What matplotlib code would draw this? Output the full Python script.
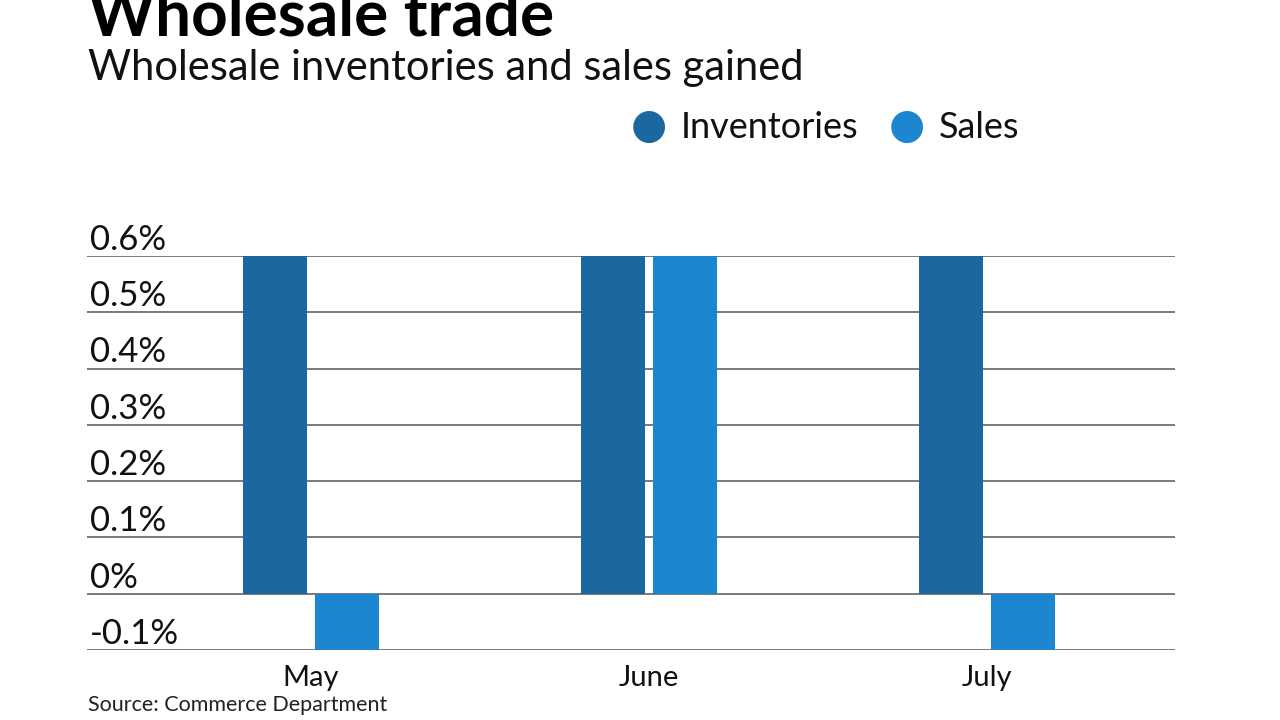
import matplotlib.pyplot as plt

# Chart data
months = ["May", "June", "July"]
inventories = [0.6, 0.6, 0.6]
sales = [-0.1, 0.6, -0.1]
tick_values = [-0.1, 0, 0.1, 0.2, 0.3, 0.4, 0.5, 0.6]
tick_labels = ["-0.1%", "0%", "0.1%", "0.2%", "0.3%", "0.4%", "0.5%", "0.6%"]

inv_color = "#1b67a0"
sales_color = "#1c86d1"

plt.rcParams["font.family"] = ["Lato", "DejaVu Sans"]

fig = plt.figure(figsize=(12.8, 7.2), dpi=100)
ax = fig.add_axes([87 / 1280, 1 - 650 / 720, 1088 / 1280, 394 / 720])


def fy(px):
    # pixel row from top -> figure fraction
    return 1 - px / 720


x = list(range(len(months)))
w = 0.189
off = 0.1065
ax.bar([i - off for i in x], inventories, width=w, color=inv_color, zorder=2)
ax.bar([i + off for i in x], sales, width=w, color=sales_color, zorder=2)

ax.set_xlim(-0.663, 2.556)
ax.set_ylim(-0.1, 0.6)

# gridlines and tick labels sitting above each line
for v, lab in zip(tick_values, tick_labels):
    ax.axhline(v, color="#555555", lw=1.1, zorder=1)
    ax.text(0.003, v + 0.011, lab, transform=ax.get_yaxis_transform(),
            ha="left", va="baseline", fontsize=25, color="#111111")

for s in ax.spines.values():
    s.set_visible(False)
ax.set_yticks([])
ax.set_xticks([])

# month labels under the groups
for i, m in zip(x, months):
    ax.text(i, -36 / 394, m, transform=ax.get_xaxis_transform(), fontsize=21,
            ha="center", va="baseline", color="#111111")

# titles
fig.text(88 / 1280, fy(35), "Wholesale trade", fontsize=46, fontweight="bold",
         ha="left", va="baseline", color="#000000")
fig.text(88 / 1280, fy(80), "Wholesale inventories and sales gained", fontsize=30,
         ha="left", va="baseline", color="#111111")

# legend
fig.text(649 / 1280, fy(126), "\u25cf", fontsize=30, color=inv_color,
         ha="center", va="center", family="DejaVu Sans")
fig.text(681 / 1280, fy(138), "Inventories", fontsize=26, ha="left", va="baseline", color="#111111")
fig.text(907 / 1280, fy(126), "\u25cf", fontsize=30, color=sales_color,
         ha="center", va="center", family="DejaVu Sans")
fig.text(939 / 1280, fy(138), "Sales", fontsize=26, ha="left", va="baseline", color="#111111")

fig.text(88 / 1280, fy(711), "Source: Commerce Department", fontsize=15.5,
         ha="left", va="baseline", color="#222222")

fig.savefig("out.png", dpi=100)
